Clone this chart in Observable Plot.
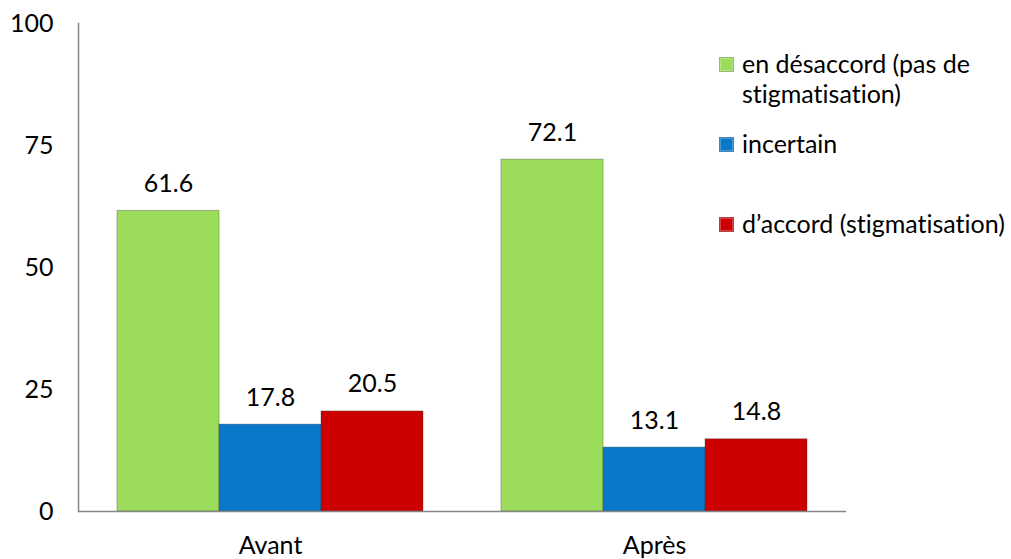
<!DOCTYPE html>
<html>
<head>
<meta charset="utf-8">
<script src="https://cdn.jsdelivr.net/npm/d3@7"></script>
<script src="https://cdn.jsdelivr.net/npm/@observablehq/plot@0.6"></script>
<style>
  html, body { margin: 0; padding: 0; background: #fff; }
  #wrap { position: relative; width: 1011px; height: 559px; font-family: Lato, "Open Sans", sans-serif; font-variant-ligatures: none; }
  #wrap svg { font-variant-ligatures: none; }
  #legend { position: absolute; left: 719px; top: 48px; color: #000; font-size: 25px; line-height: 30px; }
  .item { position: absolute; left: 0; white-space: nowrap; }
  .sw { position: absolute; left: 0; width: 15px; height: 15px; }
  .lbl { position: absolute; left: 23px; }
</style>
</head>
<body>
<div id="wrap"><div id="legend"></div></div>
<script>
const groups = ["Avant", "Après"];
const series = ["en désaccord (pas de stigmatisation)", "incertain", "d’accord (stigmatisation)"];
const legendLines = [["en désaccord (pas de", "stigmatisation)"], ["incertain"], ["d’accord (stigmatisation)"]];
const avant = [61.6, 17.8, 20.5];
const apres = [72.1, 13.1, 14.8];
const colors = ["#9BDC5A", "#0A78C8", "#CC0000"];
const yTicks = [0, 25, 50, 75, 100];

const values = {"Avant": avant, "Après": apres};
const data = groups.flatMap(g => series.map((s, i) => ({group: g, series: s, value: values[g][i]})));

const chart = Plot.plot({
  width: 1011,
  height: 559,
  marginLeft: 77,
  marginRight: 165,
  marginTop: 23,
  marginBottom: 48,
  style: {fontFamily: "Lato, 'Open Sans', sans-serif", fontSize: "25px", color: "#000", background: "#fff"},
  fx: {domain: groups, padding: 0, label: null},
  x: {domain: series, paddingInner: 0, paddingOuter: 0.375, axis: null},
  y: {domain: [0, 100], ticks: yTicks, label: null},
  color: {domain: series, range: colors},
  marks: [
    Plot.frame({anchor: "left", facetAnchor: "left", stroke: "#868686", strokeWidth: 1.5}),
    Plot.barY(data, {fx: "group", x: "series", y: "value", fill: "series", stroke: "#3a3a3a", strokeOpacity: 0.35, strokeWidth: 1}),
    Plot.text(data, {fx: "group", x: "series", y: "value", text: d => d.value.toFixed(1), dy: -27, fontSize: 25, fill: "#000"}),
    Plot.ruleY([0], {stroke: "#868686", strokeWidth: 1.5}),
    Plot.axisY({ticks: yTicks, tickSize: 0, tickPadding: 25, fontSize: 25, label: null}),
    Plot.axisFx({anchor: "bottom", tickSize: 0, tickPadding: 25, fontSize: 25, label: null})
  ]
});
document.getElementById("wrap").prepend(chart);

const legend = document.getElementById("legend");
const tops = [0, 80, 160];
series.forEach((s, i) => {
  const item = document.createElement("div");
  item.className = "item";
  item.style.top = tops[i] + "px";
  const sw = document.createElement("div");
  sw.className = "sw";
  sw.style.top = "9px";
  sw.style.background = colors[i];
  sw.style.boxShadow = "inset 0 0 0 2px rgba(255,255,255,0.25), inset 0 0 0 1px rgba(0,0,0,0.25)";
  const lbl = document.createElement("div");
  lbl.className = "lbl";
  lbl.innerHTML = legendLines[i].join("<br>");
  item.append(sw, lbl);
  legend.append(item);
});
</script>
</body>
</html>
